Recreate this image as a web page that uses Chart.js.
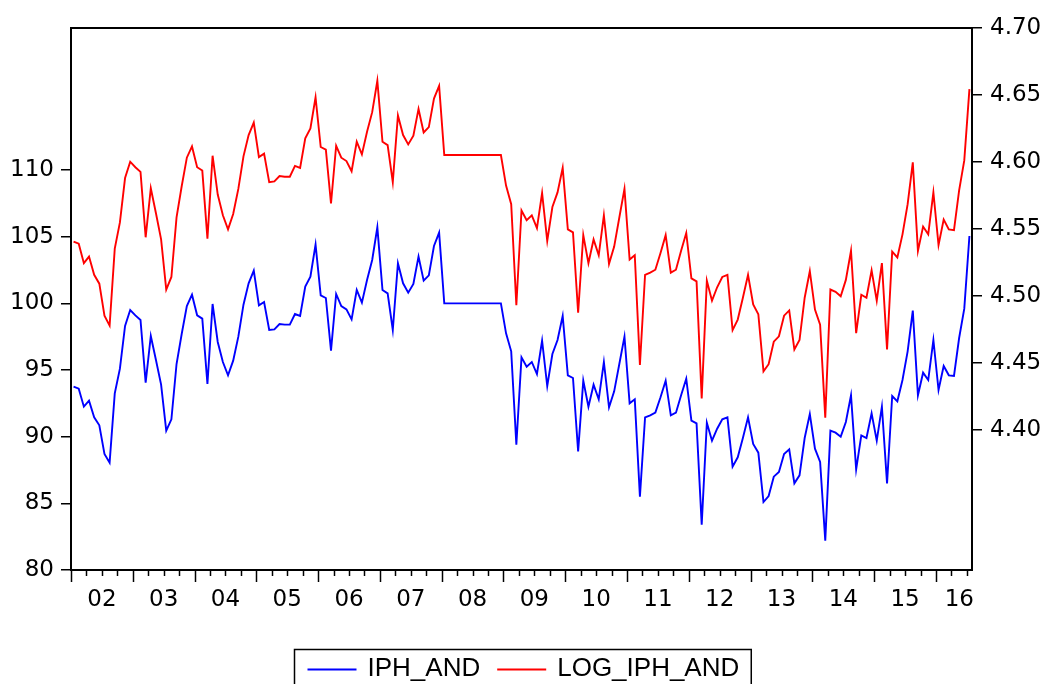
<!DOCTYPE html>
<html>
<head>
<meta charset="utf-8">
<title>IPH_AND</title>
<script src="https://cdn.jsdelivr.net/npm/chart.js@4.4.1/dist/chart.umd.min.js"></script>
<style>
    html, body { margin: 0; padding: 0; background: #fff; }
    #wrap { width: 1045px; height: 684px; }
</style>
</head>
<body>
<div id="wrap"><canvas id="iphChart" width="1045" height="684"></canvas></div>
<script>
// monthly observations, 2002M01 .. 2016M07
const startYear = 2002;

const iphAnd = [
    93.75, 93.6, 92.25, 92.7, 91.45, 90.85, 88.7, 88.05, 93.25, 95.1, 98.3, 99.5,       // 2002
    99.1, 98.75, 94.05, 97.55, 95.75, 93.9, 90.45, 91.3, 95.45, 97.7, 99.8, 100.65,     // 2003
    99.1, 98.85, 93.95, 99.95, 97.1, 95.6, 94.6, 95.7, 97.5, 99.9, 101.5, 102.45,       // 2004
    99.85, 100.1, 98.0, 98.05, 98.45, 98.4, 98.4, 99.2, 99.05, 101.25, 102.0, 104.4,    // 2005
    100.6, 100.4, 96.45, 100.7, 99.8, 99.55, 98.8, 101.0, 100.05, 101.75, 103.25, 105.7,// 2006
    101.0, 100.75, 98.0, 103.0, 101.5, 100.8, 101.45, 103.5, 101.7, 102.1, 104.3, 105.3,// 2007
    100, 100, 100, 100, 100, 100, 100, 100, 100, 100, 100, 100,                         // 2008
    97.75, 96.4, 89.4, 95.95, 95.25, 95.6, 94.7, 97.2, 93.8, 96.2, 97.25, 99.05,        // 2009
    94.6, 94.4, 88.9, 94.2, 92.25, 93.9, 92.8, 95.6, 92.2, 93.4, 95.45, 97.5,           // 2010
    92.5, 92.8, 85.5, 91.45, 91.6, 91.8, 92.95, 94.2, 91.6, 91.8, 93.1, 94.35,          // 2011
    91.2, 91.0, 83.4, 91.05, 89.7, 90.6, 91.3, 91.45, 87.75, 88.45, 89.9, 91.45,        // 2012
    89.45, 88.8, 85.1, 85.55, 87.0, 87.35, 88.7, 89.05, 86.5, 87.1, 89.9, 91.7,         // 2013
    89.1, 88.1, 82.2, 90.45, 90.3, 90.0, 91.1, 93.1, 87.55, 90.1, 89.9, 91.75,          // 2014
    89.7, 92.25, 86.5, 93.05, 92.65, 94.25, 96.4, 99.45, 93.1, 94.8, 94.25, 97.25,      // 2015
    93.5, 95.3, 94.6, 94.55, 97.4, 99.6, 105.05                                         // 2016
];

const logIphAnd = [
    4.5406, 4.5390, 4.5245, 4.5294, 4.5158, 4.5092, 4.4853, 4.4779, 4.5353, 4.5549, 4.5880, 4.6002,
    4.5961, 4.5926, 4.5438, 4.5804, 4.5617, 4.5422, 4.5048, 4.5142, 4.5586, 4.5819, 4.6032, 4.6116,
    4.5961, 4.5936, 4.5428, 4.6047, 4.5757, 4.5602, 4.5497, 4.5612, 4.5799, 4.6042, 4.6201, 4.6294,
    4.6037, 4.6062, 4.5850, 4.5855, 4.5895, 4.5890, 4.5890, 4.5971, 4.5956, 4.6176, 4.6250, 4.6482,
    4.6112, 4.6092, 4.5690, 4.6121, 4.6032, 4.6007, 4.5931, 4.6151, 4.6057, 4.6225, 4.6372, 4.6606,
    4.6151, 4.6126, 4.5850, 4.6347, 4.6201, 4.6131, 4.6196, 4.6396, 4.6220, 4.6260, 4.6473, 4.6568,
    4.6052, 4.6052, 4.6052, 4.6052, 4.6052, 4.6052, 4.6052, 4.6052, 4.6052, 4.6052, 4.6052, 4.6052,
    4.5824, 4.5685, 4.4931, 4.5638, 4.5565, 4.5602, 4.5507, 4.5768, 4.5412, 4.5664, 4.5773, 4.5956,
    4.5497, 4.5475, 4.4875, 4.5454, 4.5245, 4.5422, 4.5304, 4.5602, 4.5240, 4.5369, 4.5586, 4.5799,
    4.5272, 4.5304, 4.4485, 4.5158, 4.5174, 4.5196, 4.5321, 4.5454, 4.5174, 4.5196, 4.5337, 4.5470,
    4.5131, 4.5109, 4.4236, 4.5114, 4.4965, 4.5065, 4.5142, 4.5158, 4.4745, 4.4824, 4.4987, 4.5158,
    4.4937, 4.4864, 4.4438, 4.4491, 4.4659, 4.4699, 4.4853, 4.4892, 4.4601, 4.4671, 4.4987, 4.5185,
    4.4898, 4.4785, 4.4092, 4.5048, 4.5031, 4.4998, 4.5120, 4.5337, 4.4722, 4.5009, 4.4987, 4.5191,
    4.4965, 4.5245, 4.4601, 4.5331, 4.5288, 4.5460, 4.5685, 4.5997, 4.5337, 4.5518, 4.5460, 4.5773,
    4.5380, 4.5570, 4.5497, 4.5491, 4.5788, 4.6012, 4.6544
];

const yearLabels = ['02', '03', '04', '05', '06', '07', '08', '09', '10', '11', '12', '13', '14', '15', '16'];
const leftTicks = [80, 85, 90, 95, 100, 105, 110];
const rightTicks = [4.40, 4.45, 4.50, 4.55, 4.60, 4.65, 4.70];

// month labels like 2002M01
const months = iphAnd.map(function (v, i) {
    const y = startYear + Math.floor(i / 12);
    const m = (i % 12) + 1;
    return y + 'M' + (m < 10 ? '0' + m : m);
});

const axisFont = { family: "'DejaVu Sans', sans-serif", size: 23 };
const legendFont = "26px 'Liberation Sans', Arial, sans-serif";

// year ticks under the x axis, plot frame and boxed legend
const evFrame = {
    id: 'evFrame',
    afterDraw: function (chart) {
        const ctx = chart.ctx;
        const area = chart.chartArea;
        const xs = chart.scales.x;
        const step = xs.getPixelForValue(1) - xs.getPixelForValue(0);

        ctx.save();
        ctx.strokeStyle = '#000';
        ctx.lineWidth = 2;
        ctx.strokeRect(area.left, area.top, area.right - area.left, area.bottom - area.top);

        // quarter ticks, longer at each new year
        ctx.lineWidth = 1.5;
        for (let i = 0; i < months.length; i += 3) {
            const px = Math.round(xs.getPixelForValue(i) - step / 2) + 0.5;
            const len = i % 12 === 0 ? 12 : 6;
            ctx.beginPath();
            ctx.moveTo(px, area.bottom);
            ctx.lineTo(px, area.bottom + len);
            ctx.stroke();
        }

        // year labels centred in each year, kept inside the frame
        ctx.fillStyle = '#000';
        ctx.font = axisFont.size + 'px ' + axisFont.family;
        ctx.textAlign = 'center';
        ctx.textBaseline = 'middle';
        yearLabels.forEach(function (lab, k) {
            const first = k * 12;
            let cx = xs.getPixelForValue(first) - step / 2 + 6 * step;
            const w = ctx.measureText(lab).width;
            if (cx + w / 2 > area.right + 2) cx = area.right + 2 - w / 2;
            ctx.fillText(lab, cx, 600);
        });

        // legend
        const sets = chart.data.datasets;
        ctx.font = legendFont;
        const padL = 13, padR = 12, lineLen = 49, gapText = 11, gapItem = 17;
        const widths = sets.map(function (d) { return ctx.measureText(d.label).width; });
        let total = padL + padR + gapItem * (sets.length - 1);
        widths.forEach(function (w) { total += lineLen + gapText + w; });
        const boxLeft = Math.round(chart.width / 2 - total / 2) + 0.5;
        ctx.lineWidth = 1.5;
        ctx.strokeRect(boxLeft, 649.5, total, 60);
        let x = boxLeft + padL;
        ctx.textAlign = 'left';
        ctx.textBaseline = 'alphabetic';
        sets.forEach(function (d, i) {
            ctx.strokeStyle = d.borderColor;
            ctx.lineWidth = 1.8;
            ctx.beginPath();
            ctx.moveTo(x, 669.5);
            ctx.lineTo(x + lineLen, 669.5);
            ctx.stroke();
            x += lineLen + gapText;
            ctx.fillStyle = '#000';
            ctx.fillText(d.label, x, 676);
            x += widths[i] + gapItem;
        });
        ctx.restore();
    }
};

const chart = new Chart(document.getElementById('iphChart'), {
    type: 'line',
    data: {
        labels: months,
        datasets: [{
            label: 'IPH_AND',
            data: iphAnd,
            yAxisID: 'yLeft',
            borderColor: '#0000ff',
            borderWidth: 1.9,
            pointRadius: 0,
            tension: 0
        }, {
            label: 'LOG_IPH_AND',
            data: logIphAnd,
            yAxisID: 'yRight',
            borderColor: '#ff0000',
            borderWidth: 1.9,
            pointRadius: 0,
            tension: 0
        }]
    },
    options: {
        responsive: false,
        animation: false,
        devicePixelRatio: 1,
        layout: { padding: { top: 28, left: 0, right: 0, bottom: 0 } },
        plugins: {
            legend: { display: false },
            tooltip: { enabled: false }
        },
        scales: {
            x: {
                type: 'category',
                offset: true,
                grid: { display: false },
                border: { display: false },
                ticks: { display: false },
                afterFit: function (s) { s.height = 114; }
            },
            yLeft: {
                position: 'left',
                min: 80,
                max: 120.65,
                afterBuildTicks: function (s) {
                    s.ticks = leftTicks.map(function (v) { return { value: v }; });
                },
                afterFit: function (s) { s.width = 71; },
                grid: { drawOnChartArea: false, tickLength: 10, color: '#000', lineWidth: 1.5 },
                border: { display: false },
                ticks: { color: '#000', font: axisFont, padding: 7 }
            },
            yRight: {
                position: 'right',
                min: 4.2955,
                max: 4.70,
                afterBuildTicks: function (s) {
                    s.ticks = rightTicks.map(function (v) { return { value: v }; });
                },
                afterFit: function (s) { s.width = 73; },
                grid: { drawOnChartArea: false, tickLength: 10, color: '#000', lineWidth: 1.5 },
                border: { display: false },
                ticks: {
                    color: '#000',
                    font: axisFont,
                    padding: 8,
                    callback: function (v) { return Number(v).toFixed(2); }
                }
            }
        }
    },
    plugins: [evFrame]
});
</script>
</body>
</html>
